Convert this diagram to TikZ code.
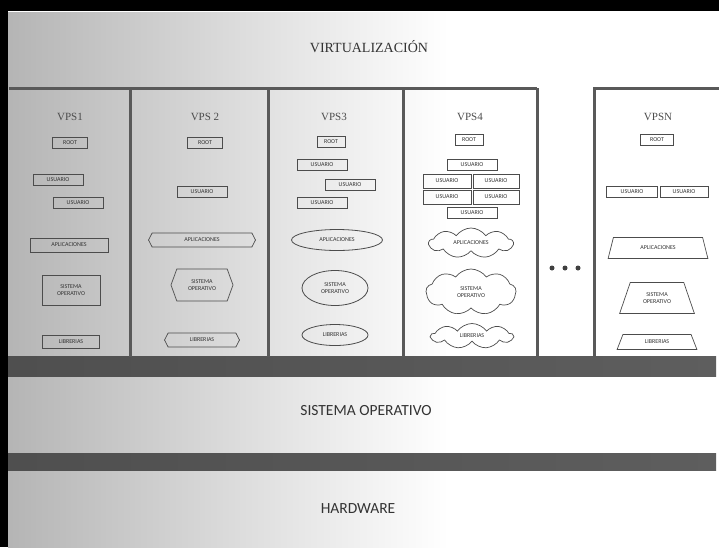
\documentclass[tikz,border=0pt]{standalone}
\usepackage{fontspec}
\setmainfont{Liberation Serif}
\newfontfamily\boxfont{Carlito}
\usepackage{tikz}
\usetikzlibrary{positioning,shapes.geometric,shapes.symbols}

% brushed metal look, grey at the left, white to the right
\pgfdeclarehorizontalshading{metal}{100bp}{color(0bp)=(black!42); color(22bp)=(black!32); color(45bp)=(black!10); color(56bp)=(white); color(95bp)=(white); color(100bp)=(black!18)}
\pgfdeclarehorizontalshading{darkbar}{100bp}{color(0bp)=(black!72); color(85bp)=(black!62); color(97bp)=(black!55); color(100bp)=(black!15)}

\begin{document}
\begin{tikzpicture}[x=1pt, y=-1pt,
    every node/.style={font=\boxfont\fontsize{6}{6.5}\selectfont, text=black!80},
    caja/.style={draw=black!70, line width=0.7pt, inner sep=1pt, minimum height=11pt},
    hexa/.style={draw=black!70, line width=0.7pt, inner sep=1pt, signal, signal to=east and west, signal pointer angle=125, align=center},
    elip/.style={draw=black!70, line width=0.8pt, ellipse, inner sep=0pt, align=center},
    nube/.style={draw=black!70, line width=0.7pt, cloud, cloud puffs=9, cloud puff arc=110, cloud ignores aspect, inner sep=0pt, align=center},
    trap/.style={draw=black!70, line width=0.7pt, trapezium, trapezium left angle=62, trapezium right angle=62, trapezium stretches=true, inner sep=0pt, align=center},
    vps/.style={font=\fontsize{11}{12}\selectfont, text=black!70},
    capa/.style={font=\boxfont\fontsize{15.5}{16}\selectfont, text=black!80}]

\useasboundingbox (0,0) rectangle (719,547);

% Background and frame
\shade[shading=metal] (8,12) rectangle (719,547);
\fill[black] (0,0) rectangle (719,11);
\fill[black] (0,0) rectangle (8,547);

% Dark bars between the layers
\shade[shading=darkbar] (8,356) rectangle (716,376);
\shade[shading=darkbar] (8,453) rectangle (716,470);

% Column frames
\draw[black!65, line width=3pt] (9,88) -- (537,88);
\draw[black!65, line width=3pt] (130,88) -- (130,357);
\draw[black!65, line width=3pt] (268,88) -- (268,357);
\draw[black!65, line width=3pt] (403,88) -- (403,357);
\draw[black!65, line width=3pt] (537,88) -- (537,357);
\draw[black!65, line width=3pt] (719,88) -- (594,88) -- (594,357);

% Layer labels
\node[font=\fontsize{14}{15}\selectfont, text=black!80] (virt) at (369,47) {VIRTUALIZACIÓN};
\node[capa] (so) at (366,411) {SISTEMA OPERATIVO};
\node[capa] (hw) at (358,509) {HARDWARE};

% VPS1
\node[vps] (t1) at (70,117) {VPS1};
\node[caja, minimum width=35pt] (r1) at (70,143) {ROOT};
\node[caja, minimum width=50pt] (u1a) at (58,180) {USUARIO};
\node[caja, minimum width=50pt] (u1b) at (78,203) {USUARIO};
\node[caja, minimum width=78pt, minimum height=14pt] (a1) at (69,245) {APLICACIONES};
\node[caja, minimum width=58pt, minimum height=30pt, align=center] (s1) at (71,290) {SISTEMA\\OPERATIVO};
\node[caja, minimum width=57pt, minimum height=13pt] (l1) at (71,342) {LIBRERIAS};

% VPS2
\node[vps] (t2) at (205,117) {VPS 2};
\node[caja, minimum width=35pt] (r2) at (205,143) {ROOT};
\node[caja, minimum width=50pt] (u2) at (202,192) {USUARIO};
\node[hexa, minimum width=107pt, minimum height=14pt] (a2) at (202,240) {APLICACIONES};
\node[hexa, minimum width=62pt, minimum height=32pt, signal pointer angle=140] (s2) at (202,285) {SISTEMA\\OPERATIVO};
\node[hexa, minimum width=75pt, minimum height=14pt] (l2) at (202,340) {LIBRERIAS};

% VPS3
\node[vps] (t3) at (334,117) {VPS3};
\node[caja, minimum width=28pt] (r3) at (331,142) {ROOT};
\node[caja, minimum width=50pt] (u3a) at (322,165) {USUARIO};
\node[caja, minimum width=50pt] (u3b) at (350,185) {USUARIO};
\node[caja, minimum width=50pt] (u3c) at (322,203) {USUARIO};
\node[elip, minimum width=91pt, minimum height=21pt] (a3) at (337,240) {APLICACIONES};
\node[elip, minimum width=66pt, minimum height=35pt] (s3) at (335,288) {SISTEMA\\OPERATIVO};
\node[elip, minimum width=66pt, minimum height=21pt] (l3) at (335,335) {LIBRERIAS};

% VPS4
\node[vps] (t4) at (470,117) {VPS4};
\node[caja, minimum width=28pt] (r4) at (469,140) {ROOT};
\node[caja, minimum width=50pt] (u4a) at (472,165) {USUARIO};
\node[caja, minimum width=48pt, minimum height=14pt] (u4b) at (447,181) {USUARIO};
\node[caja, minimum width=46pt, minimum height=14pt] (u4c) at (496,181) {USUARIO};
\node[caja, minimum width=48pt, minimum height=14pt] (u4d) at (447,197) {USUARIO};
\node[caja, minimum width=46pt, minimum height=14pt] (u4e) at (496,197) {USUARIO};
\node[caja, minimum width=50pt] (u4f) at (472,213) {USUARIO};
\node[nube, minimum width=84pt, minimum height=30pt] (a4) at (471,243) {APLICACIONES};
\node[nube, minimum width=90pt, minimum height=46pt] (s4) at (471,292) {SISTEMA\\OPERATIVO};
\node[nube, minimum width=82pt, minimum height=25pt] (l4) at (472,336) {LIBRERIAS};

% Dots
\foreach \i/\px in {1/552,2/565,3/578}
  \node[circle, fill=black!75, inner sep=0pt, minimum size=5pt] (d\i) at (\px,268) {};

% VPSN
\node[vps] (tn) at (658,117) {VPSN};
\node[caja, minimum width=33pt] (rn) at (657,140) {ROOT};
\node[caja, minimum width=51pt] (un1) at (632,192) {USUARIO};
\node[caja, minimum width=48pt] (un2) at (684,192) {USUARIO};
\node[trap, minimum width=100pt, minimum height=21pt] (an) at (658,248) {APLICACIONES};
\node[trap, minimum width=75pt, minimum height=31pt] (sn) at (657,298) {SISTEMA\\OPERATIVO};
\node[trap, minimum width=80pt, minimum height=15pt] (ln) at (657,342) {LIBRERIAS};

\end{tikzpicture}
\end{document}
